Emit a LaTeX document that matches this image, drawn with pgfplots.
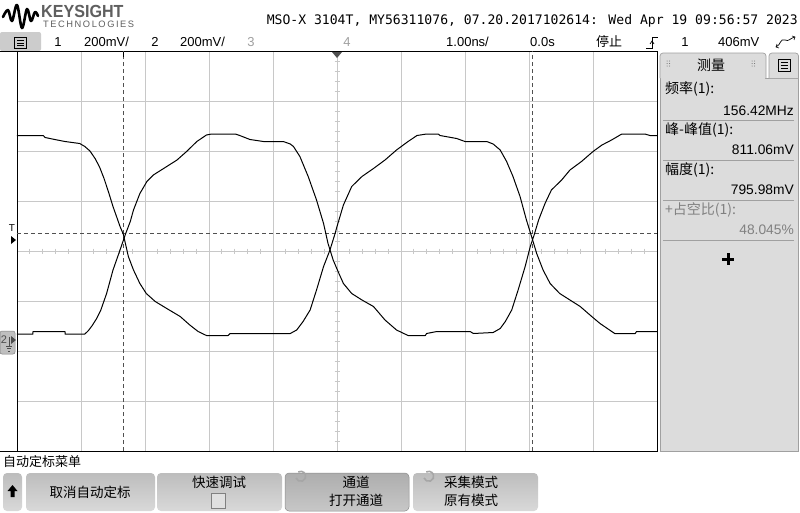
\documentclass[border=0pt]{standalone}
\usepackage{pgfplots}
\pgfplotsset{compat=1.18}
\usepackage{fontspec}
\setmainfont{Liberation Sans}
\newfontfamily\cjk{Noto Sans CJK SC}
\newfontfamily\mono{DejaVu Sans Mono}

\definecolor{gridgray}{HTML}{C8C8C8}
\definecolor{panel}{HTML}{DCDCDC}
\definecolor{panelline}{HTML}{A0A0A0}
\definecolor{cursor}{HTML}{505050}
\definecolor{logogray}{HTML}{5F5F5F}
\definecolor{btn}{HTML}{CCCCCC}

\begin{document}
\begin{tikzpicture}
\useasboundingbox (0pt,0pt) rectangle (800pt,-512pt);
\fill[white] (0pt,0pt) rectangle (800pt,-512pt);

\begin{scope}[x=1pt,y=-1pt]
  % logo
  \draw[black, line width=2.6pt, line join=round, line cap=round]
    plot[smooth, tension=0.6] coordinates {(3,17) (8,10) (12,21) (17,5) (22,28) (27,9) (31,21) (35,12) (38,16)};
  \node[anchor=base west, inner sep=0, text=logogray, font=\fontsize{17.5}{17.5}\selectfont\bfseries, xscale=0.92] at (41,17.5) {KEYSIGHT};
  \node[anchor=base west, inner sep=0, text=logogray, font=\fontsize{9.3}{9.3}\selectfont] at (43,27) {T\,E\,C\,H\,N\,O\,L\,O\,G\,I\,E\,S};
  \node[anchor=east, inner sep=0, font=\mono\fontsize{13.1}{13.1}\selectfont] at (798,21) {MSO-X 3104T, MY56311076, 07.20.2017102614: Wed Apr 19 09:56:57 2023};

  % status row
  \fill[btn, rounded corners=2pt] (0,32) rectangle (41,51);
  \draw[black, line width=0.6pt] (14.5,37.5) rectangle (26.5,48.5);
  \foreach \yy in {40.5,43,45.5} \draw[black, line width=0.6pt] (17,\yy) -- (24,\yy);
  \begin{scope}[every node/.style={inner sep=0, font=\fontsize{13}{13}\selectfont}]
    \node at (58,42) {1};
    \node[anchor=west] at (84,42) {200mV/};
    \node at (155,42) {2};
    \node[anchor=west] at (180,42) {200mV/};
    \node[text=panelline] at (251,42) {3};
    \node[text=panelline] at (347,42) {4};
    \node[anchor=west] at (446,42) {1.00ns/};
    \node[anchor=west] at (530,42) {0.0s};
    \node[font=\cjk\fontsize{13}{13}\selectfont] at (609,42) {停止};
    \node at (685,42) {1};
    \node[anchor=west] at (718,42) {406mV};
  \end{scope}
  \draw[black, line width=0.7pt] (646,48) -- (652,48) -- (652,37) -- (658,37);
  \draw[black, line width=0.7pt] (650,44) -- (652,41) -- (654,44);
  \draw[black, line width=0.7pt] (776,47) .. controls (781,45) and (780,38) .. (785,40) .. controls (789,42) and (790,38) .. (795,37);
  \draw[black, line width=0.6pt] (779,48) -- (776,47) -- (777,44);
  \draw[black, line width=0.6pt] (792,36) -- (795,37) -- (794,40);

  % outer border pieces
  \draw[black, line width=0.9pt] (0,51.5) -- (17,51.5);
  \draw[black, line width=0.9pt] (0,451) -- (17,451);

  % minor ticks on centre lines
  \foreach \k in {1,...,49} {
    \pgfmathsetmacro\xx{17+12.8*\k}
    \draw[gridgray, line width=0.7pt] (\xx,248.5) -- (\xx,253.5);
  }
  \foreach \k in {1,...,39} {
    \pgfmathsetmacro\yy{51+10*\k}
    \draw[gridgray, line width=0.7pt] (334.5,\yy) -- (339.5,\yy);
  }
\end{scope}

\begin{axis}[
  at={(17pt,-451pt)}, anchor=south west,
  scale only axis, width=640pt, height=400pt,
  xmin=-5, xmax=5, ymin=-4, ymax=4,
  xtick={-5,...,5}, ytick={-4,...,4},
  xticklabels={}, yticklabels={},
  major tick length=0pt,
  grid=major,
  grid style={draw=gridgray, line width=0.7pt},
  axis line style={black, line width=0.9pt},
  clip=true,
]
% cursors
\draw[cursor, line width=0.7pt, dash pattern=on 4pt off 3pt] (axis cs:-3.34,-4) -- (axis cs:-3.34,4);
\draw[cursor, line width=0.7pt, dash pattern=on 4pt off 3pt] (axis cs:3.05,-4) -- (axis cs:3.05,4);
\draw[cursor, line width=0.7pt, dash pattern=on 4pt off 3pt] (axis cs:-5,0.354) -- (axis cs:5,0.354);

% channel 1
\addplot[black, line width=1.0pt, line join=round] coordinates {
(-5.00,2.31) (-4.59,2.31) (-4.56,2.27) (-4.41,2.23) (-4.25,2.19) (-4.02,2.15)
(-3.94,2.09) (-3.86,2.00) (-3.78,1.85) (-3.71,1.68) (-3.64,1.45) (-3.57,1.18)
(-3.50,0.89) (-3.39,0.49) (-3.34,0.34) (-3.26,-0.11) (-3.18,-0.38) (-3.08,-0.65)
(-2.98,-0.85) (-2.84,-1.01) (-2.66,-1.15) (-2.45,-1.31) (-2.30,-1.48) (-2.17,-1.61)
(-2.04,-1.69) (-1.70,-1.69) (-1.67,-1.65) (-0.73,-1.65) (-0.63,-1.58) (-0.53,-1.41)
(-0.42,-1.18) (-0.32,-0.78) (-0.21,-0.31) (-0.11,0.02) (-0.03,0.35) (0.00,0.49)
(0.10,0.92) (0.23,1.29) (0.39,1.49) (0.57,1.65) (0.75,1.82) (0.93,2.02)
(1.11,2.19) (1.25,2.31) (1.40,2.34) (1.58,2.34) (1.61,2.31) (1.87,2.25)
(2.00,2.19) (2.34,2.19) (2.44,2.14) (2.55,2.02) (2.65,1.79) (2.75,1.49)
(2.86,1.09) (2.96,0.62) (3.04,0.29) (3.12,-0.05) (3.22,-0.38) (3.33,-0.65)
(3.48,-0.85) (3.64,-0.98) (3.80,-1.11) (3.98,-1.31) (4.11,-1.45) (4.27,-1.59)
(4.34,-1.65) (4.66,-1.65) (4.68,-1.61) (5.00,-1.61)
};
% channel 2
\addplot[black, line width=1.0pt, line join=round] coordinates {
(-5.00,-1.66) (-4.75,-1.66) (-4.75,-1.61) (-4.25,-1.61) (-4.25,-1.66) (-3.94,-1.66)
(-3.89,-1.60) (-3.83,-1.50) (-3.76,-1.36) (-3.69,-1.18) (-3.60,-0.85) (-3.50,-0.38)
(-3.39,0.02) (-3.31,0.32) (-3.23,0.59) (-3.18,0.82) (-3.08,1.15) (-2.97,1.39)
(-2.87,1.52) (-2.66,1.69) (-2.50,1.82) (-2.35,1.99) (-2.19,2.19) (-2.04,2.32)
(-1.96,2.34) (-1.59,2.34) (-1.52,2.31) (-1.36,2.23) (-1.15,2.19) (-0.84,2.19)
(-0.73,2.14) (-0.68,2.09) (-0.58,1.89) (-0.45,1.49) (-0.32,1.02) (-0.21,0.55)
(-0.14,0.15) (-0.06,-0.18) (0.02,-0.42) (0.10,-0.65) (0.23,-0.85) (0.39,-0.98)
(0.57,-1.11) (0.75,-1.38) (0.93,-1.58) (1.11,-1.69) (1.38,-1.69) (1.40,-1.65)
(1.56,-1.61) (2.08,-1.61) (2.13,-1.65) (2.44,-1.63) (2.55,-1.55) (2.63,-1.41)
(2.73,-1.18) (2.83,-0.78) (2.94,-0.31) (3.02,0.09) (3.08,0.32) (3.15,0.62)
(3.25,0.95) (3.35,1.22) (3.51,1.42) (3.64,1.62) (3.82,1.79) (4.00,1.99)
(4.14,2.12) (4.29,2.22) (4.45,2.34) (4.81,2.34) (4.89,2.31) (5.00,2.31)
};
\end{axis}

\begin{scope}[x=1pt,y=-1pt]
  % top markers
  \fill[cursor] (332,52) -- (342,52) -- (337,58) -- cycle;
  \draw[black, line width=0.8pt] (123.3,52) -- (123.3,57);
  % left markers
  \node[inner sep=0, font=\fontsize{10}{10}\selectfont] at (12,228) {T};
  \fill[black] (11,236) -- (16,240) -- (11,244) -- cycle;
  \filldraw[fill=black!25, draw=gray, rounded corners=2pt, line width=0.5pt] (0,331) rectangle (15,354);
  \node[inner sep=0, text=black!70, font=\fontsize{11}{11}\selectfont] at (4,340) {2};
  \draw[black!70, line width=0.5pt] (9,337) -- (9,346) (6,346) -- (12,346) (7,348.5) -- (11,348.5) (8,351) -- (10,351);
  \fill[black!70] (11,336) -- (16,340) -- (11,344) -- cycle;

  % right measurement panel
  \filldraw[fill=panel, draw=panelline, line width=0.7pt] (660,78) rectangle (798.5,451.5);
  \filldraw[fill=panel, draw=panelline, line width=0.7pt, rounded corners=3pt] (660,78) -- (660,53) -- (766,53) -- (766,78);
  \filldraw[fill=panel, draw=panelline, line width=0.7pt, rounded corners=3pt] (769,78) -- (769,53) -- (798.5,53) -- (798.5,78);
  \fill[panel] (661,74) rectangle (765,80);
  \draw[black, line width=0.6pt] (778,59.5) rectangle (790,71.5);
  \foreach \yy in {62.5,65.5,68.5} \draw[black, line width=0.6pt] (780.5,\yy) -- (787.5,\yy);
  \foreach \dx in {667,752} {
    \foreach \a in {0,2.5} \foreach \b in {61,63.5,66} \fill[black!60] (\dx+\a,\b) circle (0.5);
  }
  \node[inner sep=0, font=\cjk\fontsize{14}{14}\selectfont] at (711,65) {测量};
  \begin{scope}[every node/.style={inner sep=0, font=\cjk\fontsize{14}{14}\selectfont}]
    \node[anchor=west] at (665,89) {频率(1):};
    \node[anchor=east, font=\fontsize{13.8}{13.8}\selectfont] at (794,111) {156.42MHz};
    \node[anchor=west] at (665,130) {峰-峰值(1):};
    \node[anchor=east, font=\fontsize{13.8}{13.8}\selectfont] at (794,150) {811.06mV};
    \node[anchor=west] at (665,170) {幅度(1):};
    \node[anchor=east, font=\fontsize{13.8}{13.8}\selectfont] at (794,190) {795.98mV};
    \node[anchor=west, text=gray] at (665,210) {+占空比(1):};
    \node[anchor=east, text=gray, font=\fontsize{13.8}{13.8}\selectfont] at (794,230) {48.045\%};
  \end{scope}
  \foreach \yy in {120.5,160.5,200.5,240.5} \draw[panelline, line width=0.7pt] (663,\yy) -- (794,\yy);
  \fill[black] (726.5,253) rectangle (729.5,265);
  \fill[black] (722,257.5) rectangle (734,260.5);

  % bottom softkey menu
  \node[anchor=west, inner sep=0, font=\cjk\fontsize{13}{13}\selectfont] at (3,462) {自动定标菜单};
  \foreach \xa/\xb in {3/22, 26/155, 157/282, 413/538} {
    \shade[top color=black!26, bottom color=black!15, rounded corners=4pt] (\xa,473) rectangle (\xb,511);
  }
  \shade[top color=black!32, bottom color=black!22, rounded corners=4pt] (285,473) rectangle (409,511);
  \draw[black!45, line width=0.5pt, rounded corners=4pt] (285,473) rectangle (409,511);
  \fill[black] (12.5,485) -- (17.5,491) -- (14.5,491) -- (14.5,497) -- (10.5,497) -- (10.5,491) -- (7.5,491) -- cycle;
  \begin{scope}[every node/.style={inner sep=0, font=\cjk\fontsize{13.5}{13.5}\selectfont}]
    \node at (90,492) {取消自动定标};
    \node at (219,482) {快速调试};
    \node at (356,482) {通道};
    \node at (356,500) {打开通道};
    \node at (471,482) {采集模式};
    \node at (471,500) {原有模式};
  \end{scope}
  \filldraw[fill=black!12, draw=black!50, line width=0.5pt] (211,493) rectangle (225,508);
  \draw[black!35, line width=1.6pt] (296,478) arc[start angle=160, end angle=-120, radius=5];
  \draw[black!35, line width=1.6pt] (424,478) arc[start angle=160, end angle=-120, radius=5];
\end{scope}
\end{tikzpicture}
\end{document}
